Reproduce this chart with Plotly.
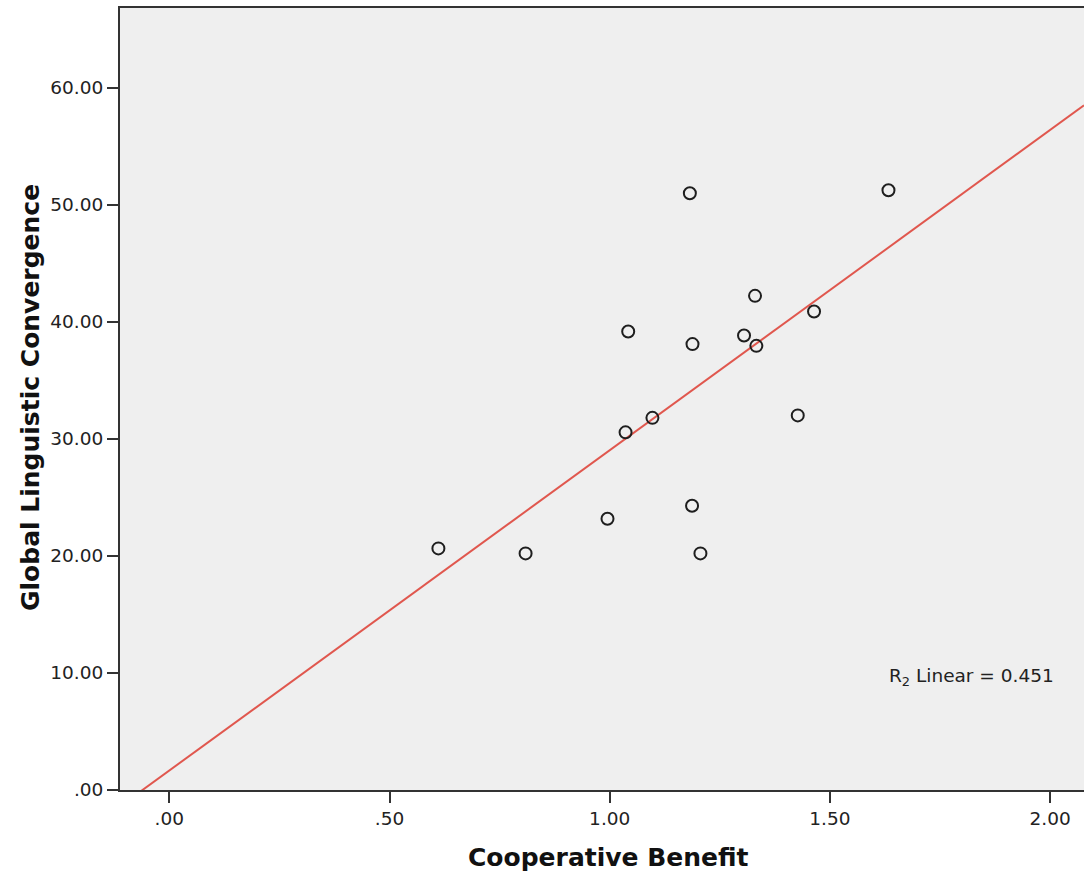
import numpy as np
import plotly.graph_objects as go

# Data
cooperative_benefit = [0.611, 0.809, 0.995, 1.036, 1.042, 1.097, 1.182, 1.188,
                       1.187, 1.206, 1.305, 1.330, 1.333, 1.427, 1.464, 1.633]
linguistic_convergence = [20.64, 20.21, 23.17, 30.55, 39.17, 31.79, 50.98, 38.09,
                          24.28, 20.21, 38.83, 42.21, 37.94, 32.00, 40.88, 51.23]

x_tickvals = [0.0, 0.5, 1.0, 1.5, 2.0]
x_ticktext = [".00", ".50", "1.00", "1.50", "2.00"]
y_tickvals = [0, 10, 20, 30, 40, 50, 60]
y_ticktext = [".00", "10.00", "20.00", "30.00", "40.00", "50.00", "60.00"]
r2_label = "R<sub>2</sub> Linear = 0.451"

x_range = [-0.112, 2.077]
y_range = [0, 66.8]

xs = np.array(cooperative_benefit)
ys = np.array(linguistic_convergence)
slope, intercept = np.polyfit(xs, ys, 1)
fit_x = np.array(x_range)
fit_y = slope * fit_x + intercept

FONT = "DejaVu Sans"
INK = "#222222"

fig = go.Figure()
fig.add_trace(go.Scatter(
    x=fit_x, y=fit_y, mode="lines",
    line=dict(color="#e0574e", width=2),
    hoverinfo="skip", showlegend=False,
))
fig.add_trace(go.Scatter(
    x=cooperative_benefit, y=linguistic_convergence, mode="markers",
    marker=dict(symbol="circle-open", size=12, color="#1e1e1e", line=dict(width=2)),
    showlegend=False, cliponaxis=False,
))

fig.update_layout(
    width=1084, height=871,
    margin=dict(l=120, r=0, t=8, b=81),
    paper_bgcolor="white",
    plot_bgcolor="#efefef",
    font=dict(family=FONT, color=INK, size=18),
    xaxis=dict(
        range=x_range, tickvals=x_tickvals, ticktext=x_ticktext,
        showgrid=False, zeroline=False,
        showline=True, linecolor="#333333", linewidth=2, mirror=True,
        ticks="outside", ticklen=11, tickwidth=2, tickcolor="#333333",
        tickfont=dict(family=FONT, size=18.5, color=INK),
    ),
    yaxis=dict(
        range=y_range, tickvals=y_tickvals, ticktext=y_ticktext,
        showgrid=False, zeroline=False,
        showline=True, linecolor="#333333", linewidth=2,
        ticks="outside", ticklen=11, tickwidth=2, tickcolor="#333333",
        tickfont=dict(family=FONT, size=18.5, color=INK),
    ),
    annotations=[
        dict(text="Cooperative Benefit", xref="paper", yref="paper",
             x=(608 - 120) / 964, y=(790 - 857) / 782,
             xanchor="center", yanchor="middle", showarrow=False,
             font=dict(family=FONT, size=25, color="#111111", weight="bold")),
        dict(text="Global Linguistic Convergence", xref="paper", yref="paper",
             x=(30 - 120) / 964, y=(790 - 398) / 782, textangle=-90,
             xanchor="center", yanchor="middle", showarrow=False,
             font=dict(family=FONT, size=25, color="#111111", weight="bold")),
        dict(text=r2_label, xref="x", yref="y", x=1.63, y=9.65,
             xanchor="left", yanchor="middle", showarrow=False,
             font=dict(family=FONT, size=18.5, color=INK)),
    ],
)

fig.write_html("out.html")
